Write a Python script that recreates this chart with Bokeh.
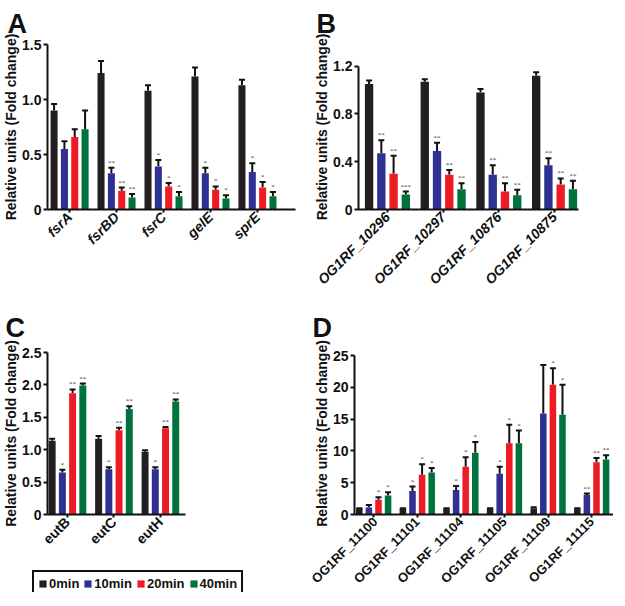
import math
from bokeh.plotting import figure
from bokeh.models import (Range1d, FixedTicker, ColumnDataSource, Whisker, TeeHead,
                          Legend, LegendItem)
from bokeh.layouts import row, column
from bokeh.embed import file_html
from bokeh.resources import INLINE

FONT = "Liberation Sans"

series = ["0min", "10min", "20min", "40min"]
colors = ["#231F20", "#2E3192", "#ED1C24", "#00733C"]
y_title = "Relative units (Fold change)"

# ---- Panel A ----
a_cats = ["fsrA", "fsrBD", "fsrC", "gelE", "sprE"]
a_0min = [0.90, 1.24, 1.08, 1.21, 1.13]
a_10min = [0.55, 0.33, 0.39, 0.33, 0.34]
a_20min = [0.66, 0.17, 0.21, 0.18, 0.20]
a_40min = [0.73, 0.11, 0.12, 0.10, 0.12]
a_err_0min = [0.06, 0.11, 0.05, 0.08, 0.05]
a_err_10min = [0.07, 0.05, 0.06, 0.05, 0.08]
a_err_20min = [0.07, 0.03, 0.03, 0.03, 0.05]
a_err_40min = [0.17, 0.03, 0.04, 0.03, 0.04]
a_sig_0min = ["", "", "", "", ""]
a_sig_10min = ["", "**", "*", "*", "*"]
a_sig_20min = ["", "**", "*", "*", "*"]
a_sig_40min = ["", "**", "*", "*", "*"]
a_yticks = [0, 0.5, 1.0, 1.5]
a_ytick_labels = ["0", "0.5", "1.0", "1.5"]

# ---- Panel B ----
b_cats = ["OG1RF_10296", "OG1RF_10297", "OG1RF_10876", "OG1RF_10875"]
b_0min = [1.05, 1.07, 0.98, 1.12]
b_10min = [0.47, 0.49, 0.29, 0.37]
b_20min = [0.30, 0.29, 0.15, 0.21]
b_40min = [0.125, 0.17, 0.12, 0.17]
b_err_0min = [0.03, 0.02, 0.03, 0.03]
b_err_10min = [0.11, 0.07, 0.08, 0.06]
b_err_20min = [0.15, 0.04, 0.07, 0.05]
b_err_40min = [0.025, 0.05, 0.045, 0.07]
b_sig_0min = ["", "", "", ""]
b_sig_10min = ["**", "**", "**", "**"]
b_sig_20min = ["**", "**", "**", "**"]
b_sig_40min = ["***", "**", "**", "**"]
b_yticks = [0, 0.4, 0.8, 1.2]
b_ytick_labels = ["0", "0.4", "0.8", "1.2"]

# ---- Panel C ----
c_cats = ["eutB", "eutC", "eutH"]
c_0min = [1.14, 1.17, 0.97]
c_10min = [0.65, 0.70, 0.70]
c_20min = [1.87, 1.30, 1.33]
c_40min = [1.99, 1.63, 1.745]
c_err_0min = [0.03, 0.04, 0.02]
c_err_10min = [0.04, 0.03, 0.03]
c_err_20min = [0.06, 0.04, 0.02]
c_err_40min = [0.03, 0.04, 0.03]
c_sig_0min = ["", "", ""]
c_sig_10min = ["*", "*", "*"]
c_sig_20min = ["**", "**", "**"]
c_sig_40min = ["**", "**", "**"]
c_yticks = [0, 0.5, 1.0, 1.5, 2.0, 2.5]
c_ytick_labels = ["0", "0.5", "1.0", "1.5", "2.0", "2.5"]

# ---- Panel D ----
d_cats = ["OG1RF_11100", "OG1RF_11101", "OG1RF_11104", "OG1RF_11105", "OG1RF_11109", "OG1RF_11115"]
d_0min = [1.0, 1.0, 1.0, 1.0, 1.0, 1.0]
d_10min = [1.1, 3.7, 3.85, 6.4, 15.9, 3.05]
d_20min = [2.3, 6.25, 7.5, 11.2, 20.4, 8.2]
d_40min = [3.0, 6.6, 9.7, 11.2, 15.7, 8.65]
d_err_0min = [0.0, 0.0, 0.0, 0.0, 0.15, 0.0]
d_err_10min = [0.4, 0.7, 0.65, 1.1, 7.6, 0.25]
d_err_20min = [0.4, 1.65, 1.5, 2.9, 2.6, 0.7]
d_err_40min = [0.5, 0.7, 1.7, 2.0, 4.7, 0.65]
d_sig_0min = ["", "", "", "", "", ""]
d_sig_10min = ["", "*", "*", "*", "", "**"]
d_sig_20min = ["*", "*", "*", "*", "*", "**"]
d_sig_40min = ["*", "*", "*", "*", "*", "**"]
d_yticks = [0, 5, 10, 15, 20, 25]
d_ytick_labels = ["0", "5", "10", "15", "20", "25"]

STEP = 0.22
BAR_W = 0.15


def bar_sources(cats, vals, errs, sigs):
    out = []
    for k in range(4):
        xs = [i + (k - 1.5) * STEP for i in range(len(cats))]
        up = [v + e for v, e in zip(vals[k], errs[k])]
        out.append(ColumnDataSource(dict(x=xs, top=vals[k], up=up, sig=sigs[k])))
    return out


def make_panel(letter, srcs, n_cats, yticks, ytick_labels, y_top, x_start, x_end,
               fw, fh, mbl, mbr, mbt, mbb, label_names, label_style, label_size,
               letter_offset, letter_standoff):
    p = figure(frame_width=fw, frame_height=fh, output_backend="svg", toolbar_location=None,
               x_range=Range1d(x_start, x_end), y_range=Range1d(0, y_top),
               min_border_left=mbl, min_border_right=mbr, min_border_top=mbt,
               min_border_bottom=mbb)
    p.xgrid.visible = False
    p.ygrid.visible = False
    p.outline_line_color = None
    for k, src in enumerate(srcs):
        p.vbar(x="x", top="top", bottom=0, width=BAR_W, source=src,
               fill_color=colors[k], line_color=None)
        p.add_layout(Whisker(source=src, base="x", upper="up", lower="top",
                             upper_head=TeeHead(size=6, line_color="#111111", line_width=2),
                             lower_head=None, line_color="#111111", line_width=2))
        p.text(x="x", y="up", text="sig", source=src, text_align="center",
               text_baseline="bottom", text_font_size="7px", y_offset=-1,
               text_color="#444444", text_font=FONT)
    for ax in (p.xaxis, p.yaxis):
        ax.axis_line_width = 2
        ax.major_tick_line_width = 2
        ax.major_tick_out = 4
        ax.major_tick_in = 0
        ax.minor_tick_line_color = None
        ax.major_label_text_font = FONT
        ax.major_label_text_font_style = "bold"
        ax.major_label_text_color = "#111111"
        ax.axis_line_color = "#111111"
        ax.major_tick_line_color = "#111111"
    p.xaxis.ticker = FixedTicker(ticks=list(range(n_cats)))
    p.xaxis.major_label_overrides = {i: c for i, c in enumerate(label_names)}
    p.xaxis.major_label_orientation = math.pi / 4
    p.xaxis.major_label_text_font_style = label_style
    p.xaxis.major_label_text_font_size = label_size
    p.xaxis.major_label_standoff = 2
    p.xaxis.major_tick_out = 3
    p.yaxis.ticker = FixedTicker(ticks=yticks)
    p.yaxis.bounds = (yticks[0], yticks[-1])
    p.yaxis.major_label_overrides = {t: l for t, l in zip(yticks, ytick_labels)}
    p.yaxis.major_label_text_font_size = "14px"
    p.yaxis.major_label_standoff = 2
    p.yaxis.axis_label = y_title
    p.yaxis.axis_label_text_font = FONT
    p.yaxis.axis_label_text_font_style = "bold"
    p.yaxis.axis_label_text_font_size = "14px"
    p.yaxis.axis_label_text_color = "#111111"
    p.yaxis.axis_label_standoff = 0
    p.title.text = letter
    p.title.align = "left"
    p.title.offset = letter_offset
    p.title.standoff = letter_standoff
    p.title.text_font = FONT
    p.title.text_font_style = "bold"
    p.title.text_font_size = "27px"
    p.title.text_color = "#111111"
    return p


srcA = bar_sources(a_cats, [a_0min, a_10min, a_20min, a_40min],
                   [a_err_0min, a_err_10min, a_err_20min, a_err_40min],
                   [a_sig_0min, a_sig_10min, a_sig_20min, a_sig_40min])
srcB = bar_sources(b_cats, [b_0min, b_10min, b_20min, b_40min],
                   [b_err_0min, b_err_10min, b_err_20min, b_err_40min],
                   [b_sig_0min, b_sig_10min, b_sig_20min, b_sig_40min])
srcC = bar_sources(c_cats, [c_0min, c_10min, c_20min, c_40min],
                   [c_err_0min, c_err_10min, c_err_20min, c_err_40min],
                   [c_sig_0min, c_sig_10min, c_sig_20min, c_sig_40min])
srcD = bar_sources(d_cats, [d_0min, d_10min, d_20min, d_40min],
                   [d_err_0min, d_err_10min, d_err_20min, d_err_40min],
                   [d_sig_0min, d_sig_10min, d_sig_20min, d_sig_40min])

# Row 1
pA = make_panel("A", srcA, len(a_cats), a_yticks, a_ytick_labels, 1.5, -0.47, 4.81,
                248, 165, 40, 16, 42, 87, a_cats, "bold italic", "14px", -40, 12)
pB = make_panel("B", srcB, len(b_cats), b_yticks, b_ytick_labels, 1.2 * 165 / 143.3, -0.52, 3.43,
                220, 165, 46, 39, 42, 87, b_cats, "bold italic", "14px", -42, 12)
# Row 2
pC = make_panel("C", srcC, len(c_cats), c_yticks, c_ytick_labels, 2.5, -0.43, 2.54,
                138, 162, 43, 123, 56, 44, c_cats, "bold", "14px", -42, 20)
pD = make_panel("D", srcD, len(d_cats), d_yticks, d_ytick_labels, 25 * 162 / 159, -0.44, 5.5,
                259, 162, 46, 0, 56, 78, d_cats, "bold", "13px", -42, 20)

# Legend strip under panel C: key glyphs reuse panel C's sources, kept out of the strip's view
pL = figure(width=304, height=34, output_backend="svg", toolbar_location=None, title=None,
            x_axis_type=None, y_axis_type=None, x_range=Range1d(-0.43, 2.54),
            y_range=Range1d(50, 51),
            min_border_left=0, min_border_right=0, min_border_top=0, min_border_bottom=0)
pL.xgrid.visible = False
pL.ygrid.visible = False
pL.outline_line_color = None
key_renderers = [pL.vbar(x="x", top="top", bottom=0, width=BAR_W, source=src,
                         fill_color=c, line_color=None) for src, c in zip(srcC, colors)]
legend = Legend(items=[LegendItem(label=s, renderers=[r]) for s, r in zip(series, key_renderers)],
                orientation="horizontal", location=(32, -5),
                border_line_color="#111111", border_line_width=2, border_line_alpha=1.0,
                label_text_font=FONT, label_text_font_style="bold",
                label_text_font_size="13px", label_text_color="#111111",
                glyph_width=9, glyph_height=9,
                label_standoff=2, spacing=4, padding=4, margin=0,
                background_fill_alpha=1.0)
pL.add_layout(legend, "center")

layout = column(row(pA, pB), row(column(pC, row(pL)), pD))

with open("out.html", "w") as f:
    f.write(file_html(layout, INLINE))
